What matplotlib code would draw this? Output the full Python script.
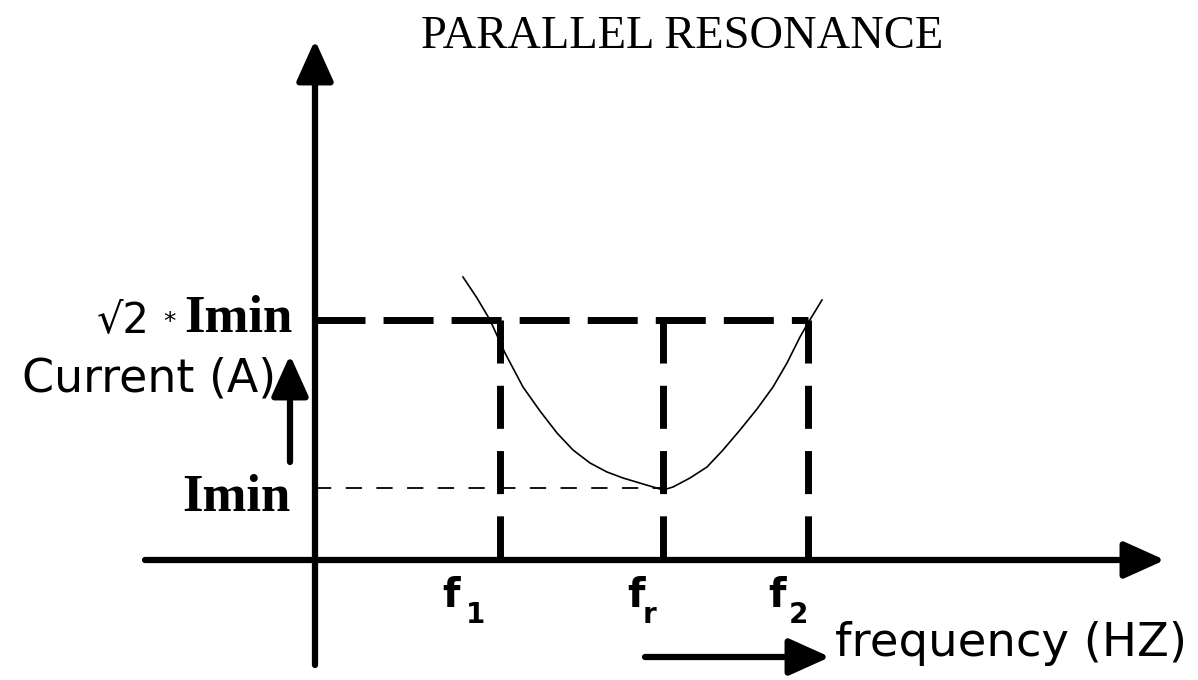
import numpy as np
import matplotlib.pyplot as plt

# parallel resonance sketch: current vs frequency, min current at fr

# frequencies (arbitrary units) of the marked points
freq_marks = [1.85, 3.48, 4.93]
freq_subs = ['1', 'r', '2']

# current levels
i_min = 0.72
i_half = 2.40   # the sqrt(2)*Imin level

# hand drawn curve
curve_f = [1.48, 1.62, 1.75, 1.90, 2.08, 2.25, 2.42, 2.58, 2.75, 2.92, 3.08, 3.28, 3.45, 3.48,
           3.58, 3.75, 3.92, 4.08, 4.25, 4.42, 4.58, 4.72, 4.85, 4.93, 5.07]
curve_i = [2.83, 2.62, 2.40, 2.07, 1.73, 1.49, 1.27, 1.10, 0.97, 0.88, 0.82, 0.76, 0.71, 0.70,
           0.73, 0.82, 0.93, 1.10, 1.30, 1.51, 1.73, 1.97, 2.23, 2.37, 2.60]

W, H = 1198, 680
fig = plt.figure(figsize=(W / 100, H / 100), dpi=100)
ax = fig.add_axes([0, 0, 1, 1])
ax.set_xlim(-3.15, W / 100 - 3.15)
ax.set_ylim(-(H - 560) / 100, 560 / 100)
ax.axis('off')


def px(x, y):
    # pixel position -> figure fraction
    return x / W, 1 - y / H


def arrow(x0, y0, x1, y1, lw=4.5, ms=25):
    ax.annotate('', xy=(x1, y1), xytext=(x0, y0),
                arrowprops=dict(arrowstyle='-|>,head_length=1.0,head_width=0.45',
                                lw=lw, color='black', mutation_scale=ms,
                                shrinkA=0, shrinkB=0))


# axes
arrow(0, -1.05, 0, 5.2)
arrow(-1.7, 0, 8.5, 0)

# dashed guide lines
ax.plot([0, freq_marks[2]], [i_half, i_half], color='black', lw=5, dashes=(7.2, 2.6))
ax.plot([0, freq_marks[1]], [i_min, i_min], color='black', lw=1.3, dashes=(9, 8))
for f in freq_marks:
    ax.plot([f, f], [i_half, 0], color='black', lw=5, dashes=(6.2, 3.2))

# response curve
ax.plot(curve_f, curve_i, color='black', lw=1.2)

# small direction arrows
arrow(-0.25, 0.98, -0.25, 2.05, lw=4.5, ms=25)
arrow(3.30, -0.97, 5.15, -0.97, lw=4.5, ms=25)

# texts
fig.text(*px(682, 48), 'PARALLEL RESONANCE', family='Liberation Serif',
         fontsize=33.5, ha='center', va='baseline')
fig.text(*px(150, 332), '√2', family='DejaVu Sans', fontsize=30,
         ha='right', va='baseline')
fig.text(*px(170, 322), '*', family='DejaVu Sans', fontsize=18,
         ha='center', va='center')
fig.text(*px(293, 332), 'Imin', family='Liberation Serif', weight='bold',
         fontsize=38, ha='right', va='baseline')
fig.text(*px(290, 511), 'Imin', family='Liberation Serif', weight='bold',
         fontsize=38, ha='right', va='baseline')
fig.text(*px(276, 392), 'Current (A)', family='DejaVu Sans', fontsize=33,
         ha='right', va='baseline')
fig.text(*px(835, 656), 'frequency (HZ)', family='DejaVu Sans', fontsize=33.5,
         ha='left', va='baseline')

# f labels with lowered subscripts
f_left = [442, 627, 768]
sub_left = [466, 643, 789]
for fx, sx, sub in zip(f_left, sub_left, freq_subs):
    fig.text(*px(fx, 607), 'f', family='DejaVu Sans', weight='bold',
             fontsize=29, ha='left', va='baseline')
    fig.text(*px(sx, 623), sub, family='DejaVu Sans', weight='bold',
             fontsize=20, ha='left', va='baseline')

fig.savefig('out.png', dpi=100, facecolor='white')
